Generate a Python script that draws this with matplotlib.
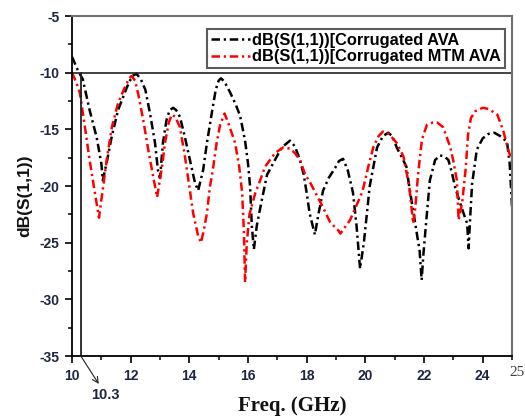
import matplotlib
matplotlib.use("Agg")
import matplotlib.pyplot as plt
from matplotlib.ticker import MultipleLocator

# S11 of the corrugated AVA (GHz, dB)
ava_freq = [10.00, 10.10, 10.20, 10.37, 10.60, 10.84, 11.00, 11.05, 11.20, 11.35,
            11.57, 11.87, 12.05, 12.20, 12.35, 12.50, 12.66, 12.83, 12.93, 13.00,
            13.10, 13.22, 13.33, 13.45, 13.55, 13.68, 13.85, 14.02, 14.19, 14.30,
            14.47, 14.60, 14.77, 14.90, 15.00, 15.08, 15.20, 15.40, 15.58, 15.73,
            15.90, 16.00, 16.07, 16.13, 16.20, 16.30, 16.45, 16.65, 16.92, 17.15,
            17.43, 17.60, 17.77, 17.90, 18.00, 18.10, 18.28, 18.40, 18.56, 18.75,
            18.97, 19.10, 19.24, 19.40, 19.58, 19.70, 19.82, 19.95, 20.05, 20.15,
            20.40, 20.60, 20.78, 20.92, 21.07, 21.25, 21.40, 21.50, 21.70, 21.85,
            21.92, 21.98, 22.10, 22.20, 22.38, 22.55, 22.70, 22.83, 22.95, 23.06,
            23.23, 23.40, 23.47, 23.52, 23.58, 23.64, 23.80, 24.00, 24.20, 24.40,
            24.60, 24.83, 24.92, 25.00]
ava_db = [-8.6, -9.2, -9.8, -10.6, -13.3, -15.7, -18.0, -19.5, -17.7, -15.7,
          -13.3, -11.3, -10.3, -10.1, -10.6, -11.5, -13.6, -16.2, -18.6, -19.3,
          -16.2, -14.2, -13.3, -13.1, -13.3, -13.9, -15.7, -17.7, -19.7, -20.4,
          -18.6, -16.2, -13.5, -11.5, -10.7, -10.5, -10.8, -11.8, -12.8, -13.8,
          -16.0, -18.0, -20.0, -23.5, -25.6, -23.5, -21.5, -19.0, -17.7, -16.6,
          -16.0, -16.5, -17.7, -19.0, -20.6, -22.4, -24.3, -22.5, -20.4, -19.3,
          -18.4, -17.8, -17.6, -18.6, -20.6, -23.5, -27.3, -25.0, -22.5, -20.0,
          -16.6, -15.6, -15.3, -15.6, -16.6, -17.5, -18.3, -20.1, -23.3, -25.7,
          -28.3, -26.0, -22.4, -19.5, -17.7, -17.3, -17.4, -17.7, -18.8, -20.1,
          -21.5, -22.8, -23.3, -25.5, -22.5, -19.8, -16.8, -15.8, -15.4, -15.3,
          -15.6, -16.1, -18.0, -21.8]

# S11 of the corrugated MTM AVA (GHz, dB)
mtm_freq = [10.00, 10.15, 10.27, 10.44, 10.60, 10.78, 10.92, 11.06, 11.20, 11.36,
            11.57, 11.80, 11.95, 12.03, 12.15, 12.25, 12.43, 12.60, 12.77, 12.90,
            13.07, 13.17, 13.30, 13.40, 13.52, 13.68, 13.85, 14.02, 14.13, 14.30,
            14.40, 14.50, 14.60, 14.70, 14.80, 14.93, 15.05, 15.20, 15.35, 15.56,
            15.70, 15.80, 15.86, 15.90, 15.96, 16.05, 16.25, 16.40, 16.58, 16.92,
            17.20, 17.43, 17.60, 17.77, 17.95, 18.10, 18.30, 18.56, 18.80, 19.07,
            19.15, 19.48, 19.65, 19.90, 20.10, 20.27, 20.45, 20.60, 20.80, 21.07,
            21.30, 21.50, 21.63, 21.70, 21.80, 21.93, 22.10, 22.30, 22.45, 22.65,
            22.90, 23.00, 23.12, 23.18, 23.30, 23.42, 23.50, 23.60, 23.75, 24.00,
            24.20, 24.50, 24.70, 24.87, 25.00]
mtm_db = [-10.0, -10.9, -11.8, -14.8, -17.7, -20.6, -22.8, -20.1, -17.4, -14.8,
          -12.7, -11.3, -10.5, -10.3, -10.7, -11.8, -14.2, -16.8, -19.2, -21.0,
          -18.3, -16.2, -14.4, -13.7, -13.9, -14.8, -17.4, -20.4, -22.4, -24.4,
          -25.0, -23.8, -22.4, -20.1, -18.6, -16.2, -14.6, -13.6, -14.6, -16.2,
          -18.3, -20.6, -24.0, -28.5, -25.0, -22.5, -20.6, -19.6, -18.3, -17.1,
          -16.6, -16.7, -17.1, -17.7, -19.0, -19.6, -20.6, -21.9, -23.2, -23.9,
          -24.2, -23.0, -22.0, -20.5, -18.3, -16.6, -15.6, -15.2, -15.4, -16.2,
          -17.4, -20.1, -23.3, -22.0, -18.9, -15.9, -14.6, -14.4, -14.4, -14.8,
          -16.6, -17.8, -19.5, -23.0, -21.5, -18.5, -15.5, -14.0, -13.4, -13.1,
          -13.2, -13.7, -15.1, -16.8, -17.8]

series_labels = ["dB(S(1,1))[Corrugated AVA", "dB(S(1,1))[Corrugated MTM AVA"]
threshold_db = -10
marker_freq = 10.3
x_tick_labels = ["10", "12", "14", "16", "18", "20", "22", "24"]
y_tick_labels = ["-35", "-30", "-25", "-20", "-15", "-10", "-5"]

tick_color = "#1e2640"
sans = ["Liberation Sans", "DejaVu Sans"]
serif = ["Liberation Serif", "DejaVu Serif"]

fig = plt.figure(figsize=(5.25, 4.2), dpi=100)
ax = fig.add_axes([72 / 525, 1 - 356 / 420, 440 / 525, 340 / 420])

dash = (0, (3.4, 1.5, 0.9, 1.5))
ax.plot(ava_freq, ava_db, color="black", lw=1.8, linestyle=dash,
        label=series_labels[0])
ax.plot(mtm_freq, mtm_db, color="#ff0000", lw=1.8, linestyle=dash,
        label=series_labels[1])

# -10 dB reference line and the marker at 10.3 GHz
ax.axhline(threshold_db, color="#222222", lw=1.2)
ax.plot([marker_freq, marker_freq], [-35, threshold_db], color="#222222", lw=1.3)
ax.annotate("10.3", xy=(marker_freq, -35), xytext=(18, -28),
            textcoords="offset points", ha="center", va="center",
            fontsize=10.5, fontweight="bold", family=sans, color=tick_color,
            annotation_clip=False,
            arrowprops=dict(arrowstyle="<-", color="#222222", lw=0.8,
                            shrinkA=1, shrinkB=0))

ax.set_xlim(10, 25)
ax.set_ylim(-35, -5)
ax.set_xticks([10, 12, 14, 16, 18, 20, 22, 24])
ax.set_xticklabels(x_tick_labels)
ax.set_yticks([-35, -30, -25, -20, -15, -10, -5])
ax.set_yticklabels(y_tick_labels)
ax.xaxis.set_minor_locator(MultipleLocator(1))
ax.yaxis.set_minor_locator(MultipleLocator(2.5))
ax.tick_params(which="major", direction="out", length=5, width=1.2,
               labelsize=10, pad=4, labelcolor=tick_color)
ax.tick_params(which="minor", direction="out", length=3, width=1.1)
for lab in ax.get_xticklabels() + ax.get_yticklabels():
    lab.set_fontweight("bold")
    lab.set_family(sans)

# the last tick carries a plain serif label
ax.annotate("25", xy=(25, 0), xycoords=("data", "axes fraction"),
            xytext=(3.5, -12), textcoords="offset points",
            ha="center", va="center", fontsize=11, family=serif,
            color="#404040", annotation_clip=False)

for side in ("left", "bottom"):
    ax.spines[side].set_color("black")
    ax.spines[side].set_linewidth(1.3)
for side in ("top", "right"):
    ax.spines[side].set_color("#707070")
    ax.spines[side].set_linewidth(1.5)

ax.set_ylabel("dB(S(1,1))", fontsize=12.5, fontweight="bold", family=sans,
              color="#111111")
ax.yaxis.set_label_coords(-0.09, 0.47)
ax.set_xlabel("Freq. (GHz)", fontsize=15, fontweight="bold", family=serif,
              labelpad=10, color="#111111")

leg = ax.legend(loc="upper right", bbox_to_anchor=(0.984, 0.962),
                borderaxespad=0, frameon=True, fancybox=False,
                handlelength=2.4, handletextpad=0.15, borderpad=0.22,
                labelspacing=0.12,
                prop={"family": sans, "weight": "bold", "size": 11.8})
leg.get_frame().set_edgecolor("#333333")
leg.get_frame().set_linewidth(1.5)

fig.savefig("out.png", dpi=100)
